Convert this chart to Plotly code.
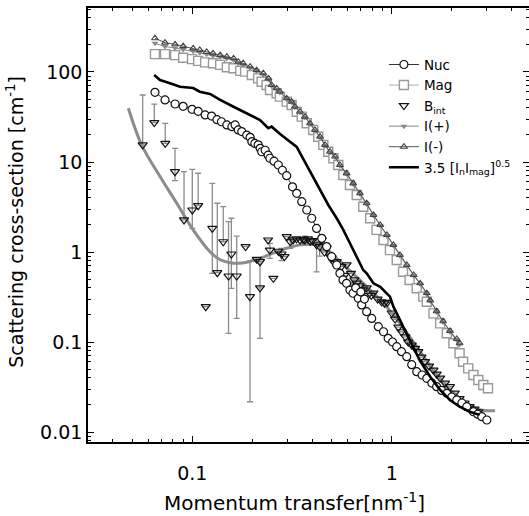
import plotly.graph_objects as go

# ---------------- data ----------------
q_nuc = [0.065, 0.073, 0.082, 0.090, 0.0997, 0.107, 0.116, 0.125, 0.133, 0.140,
         0.149, 0.158, 0.164, 0.170, 0.177, 0.1875, 0.195, 0.199, 0.206, 0.214,
         0.219, 0.223, 0.232, 0.240, 0.245, 0.257, 0.270, 0.283, 0.2975, 0.318,
         0.334, 0.354, 0.375, 0.397, 0.42, 0.446, 0.472, 0.50, 0.53, 0.55,
         0.57, 0.594, 0.6175, 0.64, 0.66, 0.68, 0.70, 0.707, 0.73, 0.749,
         0.794, 0.857, 0.91, 0.96, 1.01, 1.06, 1.12, 1.19, 1.26, 1.335,
         1.42, 1.50, 1.59, 1.68, 1.78, 1.89, 2.0, 2.12, 2.25, 2.38,
         2.57, 2.7, 2.83, 3.0]
i_nuc = [59.5, 48.9, 44.1, 41.6, 38.5, 36.6, 33.3, 32.4, 29.5, 28.0,
         25.8, 24.7, 25.8, 22.7, 21.8, 19.9, 18.8, 16.8, 16.1, 15.5,
         14.2, 13.0, 13.5, 11.9, 11.0, 10.2, 9.26, 8.1, 7.04, 5.3,
         4.49, 3.62, 2.93, 2.37, 1.83, 1.42, 1.15, 0.887, 0.717, 0.58,
         0.49, 0.449, 0.378, 0.348, 0.40, 0.306, 0.36, 0.258, 0.30, 0.217,
         0.183, 0.148, 0.13, 0.110, 0.10, 0.0887, 0.078, 0.0687, 0.056, 0.0468,
         0.043, 0.0395, 0.035, 0.0319, 0.029, 0.0269, 0.0245, 0.0227, 0.021, 0.0191,
         0.0168, 0.0158, 0.0148, 0.0136]

q_mag = [0.065, 0.073, 0.082, 0.090, 0.0997, 0.107, 0.116, 0.127, 0.138, 0.149,
         0.161, 0.174, 0.184, 0.199, 0.214, 0.2227, 0.236, 0.2453, 0.265, 0.275,
         0.2975, 0.315, 0.334, 0.354, 0.375, 0.404, 0.428, 0.454, 0.481, 0.510,
         0.540, 0.572, 0.6175, 0.668, 0.72, 0.78, 0.84, 0.91, 0.98, 1.06,
         1.14, 1.23, 1.335, 1.44, 1.50, 1.62, 1.75, 1.89, 2.04, 2.19,
         2.28, 2.42, 2.57, 2.72, 2.88, 3.04]
i_mag = [158, 158, 154, 144, 139, 133, 128, 125, 120, 113,
         110, 103, 101, 92.6, 85, 78, 71.7, 63, 58, 53.2,
         46.8, 43, 36.2, 31.9, 26.9, 22.7, 19.1, 15.5, 13.0, 11.0,
         9.26, 7.17, 5.55, 4.30, 3.18, 2.37, 1.76, 1.36, 1.05, 0.815,
         0.604, 0.489, 0.395, 0.319, 0.28, 0.208, 0.161, 0.125, 0.0968, 0.0749,
         0.0604, 0.0510, 0.0430, 0.0379, 0.0333, 0.0306]

q_pm = [0.065, 0.073, 0.082, 0.090, 0.101, 0.109, 0.118, 0.127, 0.138, 0.149,
        0.161, 0.170, 0.180, 0.195, 0.210, 0.227, 0.241, 0.250, 0.265, 0.275,
        0.2975, 0.315, 0.327, 0.347, 0.367, 0.389, 0.412, 0.437, 0.463, 0.490,
        0.52, 0.55, 0.594, 0.641, 0.693, 0.749, 0.81, 0.876, 0.946, 1.02,
        1.10, 1.19, 1.29, 1.39, 1.50, 1.56, 1.68, 1.81, 1.96, 2.12, 2.19]
i_plus = [208, 192, 185, 178, 170, 164, 157, 152, 146, 141,
          136, 126, 121, 112, 103, 94, 83, 70, 64, 59,
          50, 46, 40.5, 35.5, 31.5, 26.5, 22.3, 18.8, 15.2, 12.8,
          11.3, 9.1, 7.35, 5.7, 4.42, 3.42, 2.55, 1.97, 1.52, 1.18,
          0.91, 0.70, 0.545, 0.44, 0.34, 0.285, 0.215, 0.167, 0.13, 0.105, 0.094]
i_minus = [237, 212, 203, 194, 183, 176, 167, 161, 154, 148,
           142, 130, 125, 115, 105, 96.8, 85, 71.7, 65.9, 60.4,
           51, 46.8, 41.1, 36.2, 31.9, 26.9, 22.7, 19.1, 15.5, 13.0,
           11.5, 9.26, 7.48, 5.79, 4.49, 3.48, 2.58, 2.0, 1.55, 1.20,
           0.926, 0.717, 0.555, 0.449, 0.35, 0.29, 0.22, 0.17, 0.133, 0.108, 0.097]

q_bint = [0.0564, 0.0645, 0.0732, 0.0819, 0.0909, 0.100, 0.107, 0.1168, 0.126, 0.1335,
          0.143, 0.152, 0.157, 0.167, 0.185, 0.1947, 0.2105, 0.2186, 0.2186, 0.24,
          0.245, 0.255, 0.27, 0.28, 0.29, 0.2975, 0.31, 0.32, 0.333, 0.347,
          0.36, 0.367, 0.38, 0.39, 0.40, 0.42, 0.435, 0.446, 0.46, 0.472,
          0.49, 0.50, 0.51, 0.53, 0.56, 0.58, 0.594, 0.6175, 0.625, 0.65,
          0.668, 0.69, 0.72, 0.75, 0.76, 0.79, 0.81, 0.85, 0.89, 0.92,
          0.95, 1.0, 1.04, 1.08, 1.12, 1.17, 1.21, 1.26, 1.31, 1.36,
          1.41, 1.47, 1.54, 1.62, 1.68, 1.75, 1.85, 1.96, 2.07, 2.19,
          2.32, 2.46, 2.6, 2.72]
i_bint = [15.5, 27.4, 16.1, 7.8, 2.27, 2.93, 3.27, 0.247, 1.83, 0.589,
          1.30, 0.541, 0.95, 0.541, 1.15, 0.319, 0.83, 0.78, 0.40, 1.36,
          1.05, 0.51, 1.02, 0.95, 0.89, 1.48, 1.30, 1.36, 1.40, 1.36,
          1.38, 1.36, 1.40, 1.32, 1.34, 1.20, 1.15, 1.36, 1.0, 1.11,
          0.9, 0.86, 0.78, 0.78, 0.69, 0.55, 0.72, 0.43, 0.58, 0.49,
          0.45, 0.42, 0.38, 0.40, 0.33, 0.33, 0.35, 0.30, 0.28, 0.27,
          0.275, 0.21, 0.18, 0.146, 0.13, 0.114, 0.10, 0.0926, 0.085, 0.0782,
          0.068, 0.0605, 0.054, 0.0487, 0.044, 0.0397, 0.035, 0.0319, 0.027, 0.0235,
          0.021, 0.0191, 0.018, 0.0168]
# upper / lower ends of the error bars (None = no bar on that side)
bint_hi = [55.5, 44, 26.9, 14.2, 7.8, 8.3, 7.5, None, 5.8, 3.48,
           3.19, 2.17, 2.37, 1.5, None, 0.8, None, None, None, None,
           1.25, None, None, 1.1, None, None, 1.45, None, None, None,
           None, 1.5, None, None, None, 1.4, 1.3, None, None, None] + [None] * 44
bint_lo = [None, None, None, 6.2, None, 1.83, None, None, 0.58, None,
           None, 0.125, 0.395, 0.183, None, 0.0217, None, 0.11, None, None,
           0.85, None, None, 0.8, None, None, 1.1, None, None, None,
           None, 1.2, None, None, None, 0.6, 0.9, None, None, None] + [None] * 44

q_comb = [0.0644, 0.0689, 0.0773, 0.0868, 0.101, 0.109, 0.1227, 0.138, 0.161, 0.1875,
          0.2186, 0.2405, 0.250, 0.2755, 0.309, 0.334, 0.36, 0.397, 0.437, 0.481,
          0.53, 0.572, 0.6175, 0.668, 0.72, 0.749, 0.81, 0.876, 0.98, 1.02,
          1.10, 1.23, 1.38, 1.56, 1.75, 1.96, 2.19, 2.46, 2.76]
i_comb = [92.6, 81.5, 74.8, 68.7, 66.4, 60.4, 57, 48.9, 41.1, 34.7,
          29.3, 23.7, 24.7, 20.5, 16.7, 14.7, 10.8, 7.2, 4.88, 3.33,
          2.37, 1.76, 1.25, 0.887, 0.631, 0.58, 0.449, 0.411, 0.319, 0.247,
          0.176, 0.105, 0.063, 0.0411, 0.0293, 0.0227, 0.0191, 0.0168, 0.0155]

q_fit = [0.0478, 0.0557, 0.0689, 0.0836, 0.101, 0.123, 0.138, 0.155, 0.170, 0.1875,
         0.2186, 0.255, 0.2975, 0.347, 0.39, 0.42, 0.472, 0.53, 0.594, 0.6175,
         0.75, 0.91, 1.10, 1.335, 1.62, 1.96, 2.38, 2.76, 3.3]
i_fit = [39.5, 15.5, 6.9, 3.48, 1.76, 1.0, 0.82, 0.76, 0.75, 0.77,
         0.85, 0.97, 1.10, 1.20, 1.22, 1.20, 1.07, 0.85, 0.67, 0.62,
         0.41, 0.27, 0.161, 0.0887, 0.0487, 0.0293, 0.0209, 0.0177, 0.0172]

x_tick_vals = [0.1, 1]
x_tick_text = ["0.1", "1"]
y_tick_vals = [0.01, 0.1, 1, 10, 100]
y_tick_text = ["0.01", "0.1", "1", "10", "100"]

# ---------------- figure ----------------
FONT = "DejaVu Sans"

err_up = [(h - v) if h is not None else 0 for h, v in zip(bint_hi, i_bint)]
err_dn = [(v - l) if l is not None else 0 for l, v in zip(bint_lo, i_bint)]

fig = go.Figure()

fig.add_trace(go.Scatter(
    x=q_fit, y=i_fit, mode="lines", line=dict(color="#8c8c8c", width=3, shape="spline"),
    showlegend=False, hoverinfo="skip"))

fig.add_trace(go.Scatter(
    x=q_bint, y=i_bint, mode="markers", name="B<sub>int</sub>", legendrank=3,
    marker=dict(symbol="triangle-down-open", size=8, color="#111",
                line=dict(width=1.2)),
    error_y=dict(type="data", symmetric=False, array=err_up, arrayminus=err_dn,
                 color="#8c8c8c", thickness=1.3, width=3)))

fig.add_trace(go.Scatter(
    x=q_nuc, y=i_nuc, mode="lines+markers", name="Nuc", legendrank=1,
    line=dict(color="#333", width=1),
    marker=dict(symbol="circle", size=8, color="white",
                line=dict(color="#111", width=1.2))))

fig.add_trace(go.Scatter(
    x=q_comb, y=i_comb, mode="lines", name="3.5 [I<sub>n</sub>I<sub>mag</sub>]<sup>0.5</sup>",
    legendrank=6, line=dict(color="black", width=2.6)))

fig.add_trace(go.Scatter(
    x=q_mag, y=i_mag, mode="lines+markers", name="Mag", legendrank=2,
    line=dict(color="#aaa", width=1),
    marker=dict(symbol="square", size=9, color="white",
                line=dict(color="#999", width=1.4))))

fig.add_trace(go.Scatter(
    x=q_pm, y=i_plus, mode="lines+markers", name="I(+)", legendrank=4,
    line=dict(color="#8a8a8a", width=1),
    marker=dict(symbol="triangle-down", size=6, color="#8a8a8a")))

fig.add_trace(go.Scatter(
    x=q_pm, y=i_minus, mode="lines+markers", name="I(-)", legendrank=5,
    line=dict(color="#555", width=1),
    marker=dict(symbol="triangle-up-open", size=6, color="#444",
                line=dict(width=1.1))))

x_minor = [m * 10 ** e for e in (-2, -1, 0) for m in range(2, 10)]
y_minor = [m * 10 ** e for e in (-3, -2, -1, 0, 1, 2) for m in range(2, 10)]

axis_common = dict(
    type="log", showline=True, linecolor="black", linewidth=1.6, mirror="ticks",
    ticks="inside", ticklen=6, tickwidth=1.3, tickcolor="black",
    showgrid=False, zeroline=False, automargin=False,
    tickfont=dict(family=FONT, size=19, color="black"),
)

fig.update_xaxes(
    **axis_common, range=[-1.523, 0.6886], tickvals=x_tick_vals, ticktext=x_tick_text,
    ticklabelstandoff=13,
    minor=dict(ticks="inside", ticklen=3, tickwidth=1, tickcolor="black",
               tickvals=x_minor, showgrid=False))
fig.update_yaxes(
    **axis_common, range=[-2.111, 2.711], tickvals=y_tick_vals, ticktext=y_tick_text,
    ticklabelstandoff=0,
    minor=dict(ticks="inside", ticklen=3, tickwidth=1, tickcolor="black",
               tickvals=y_minor, showgrid=False))

fig.add_annotation(
    text="Scattering cross-section [cm<sup>-1</sup>]", xref="paper", yref="paper",
    x=-0.166, y=0.507, xanchor="center", yanchor="middle", textangle=-90,
    showarrow=False, font=dict(family=FONT, size=19, color="black"))

fig.add_annotation(
    text="Momentum transfer[nm<sup>-1</sup>]", xref="paper", yref="paper",
    x=0.468, y=-0.138, xanchor="center", yanchor="middle", showarrow=False,
    font=dict(family=FONT, size=20, color="black"))

fig.update_layout(
    width=529, height=516,
    margin=dict(l=88, r=0, t=8, b=74, autoexpand=False),
    paper_bgcolor="white", plot_bgcolor="white",
    font=dict(family=FONT, color="black"),
    legend=dict(x=0.671, y=0.905, xanchor="left", yanchor="top",
                bgcolor="rgba(0,0,0,0)", font=dict(family=FONT, size=13.5, color="black"),
                tracegroupgap=0),
)

# remove the default page margin so the figure sits at the window's top-left corner
fig.write_html("out.html", config={"displayModeBar": False},
               post_script="document.body.style.margin='0px';")
